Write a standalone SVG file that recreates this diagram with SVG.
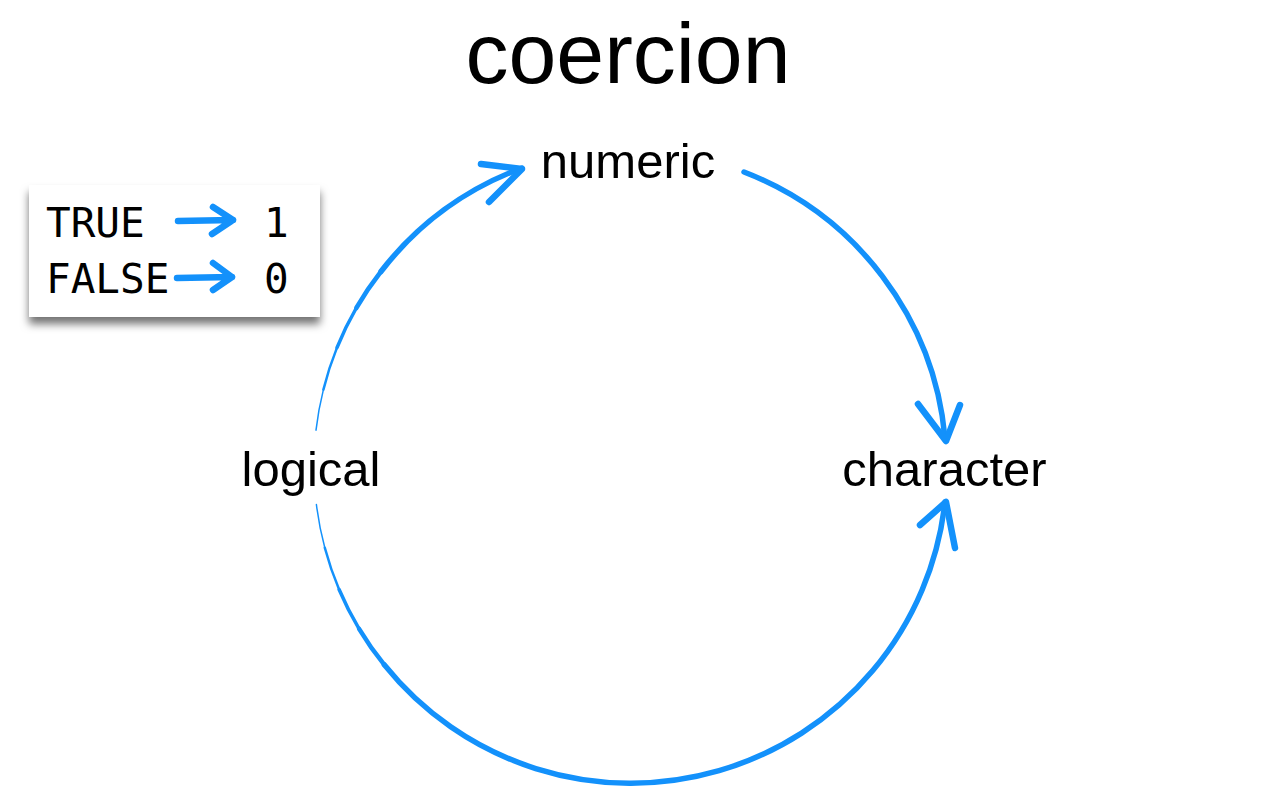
<svg xmlns="http://www.w3.org/2000/svg" width="1263" height="797" viewBox="0 0 1263 797">
<style>
.lbl{font-family:"Liberation Sans",Arial,sans-serif;fill:#000;text-anchor:middle}
.mono{font-family:"DejaVu Sans Mono","Liberation Mono",monospace;font-size:41px;fill:#000}
.arc{fill:none;stroke:#1391fb;stroke-linecap:round;stroke-linejoin:round}
.w{stroke-width:5.5}
.h{stroke-width:6.5}
</style>
<defs>
<filter id="sh" x="-10%" y="-10%" width="120%" height="140%">
<feDropShadow dx="0" dy="7" stdDeviation="4" flood-color="#000" flood-opacity="0.55"/>
</filter>
</defs>
<rect width="1263" height="797" fill="#fff"/>
<text class="lbl" x="628" y="83" font-size="86">coercion</text>
<g id="legend">
<rect x="29" y="185" width="291" height="132" fill="#fff" filter="url(#sh)"/>
<text class="mono" x="46" y="237">TRUE</text>
<text class="mono" x="46" y="293">FALSE</text>
<text class="mono" x="264" y="237">1</text>
<text class="mono" x="264" y="293">0</text>
<g class="arc h">
<path d="M178 221 L233 220 M213 207 L233 220 L212 234"/>
<path d="M177 278 L232 277 M213 263 L232 277 L213 290"/>
</g>
</g>
<g id="numeric"><text class="lbl" x="628" y="178" font-size="49">numeric</text></g>
<g id="logical"><text class="lbl" x="311" y="486" font-size="49">logical</text></g>
<g id="character"><text class="lbl" x="944.5" y="486" font-size="49">character</text></g>
<g id="connectors">
<g id="logical-numeric" class="arc">
<path stroke-width="1.5" d="M316 430.2 A316 316 0 0 1 323.4 389.6"/>
<path stroke-width="2.5" d="M323.4 389.6 A316 316 0 0 1 337 347.6"/>
<path stroke-width="3.5" d="M337 347.6 A316 316 0 0 1 356.3 308"/>
<path stroke-width="4.5" d="M356.3 308 A316 316 0 0 1 381 271.5"/>
<path class="w" d="M381 271.5 A316 316 0 0 1 521.9 168"/>
<path class="h" d="M481 164 L522 169 L489 202"/>
</g>
<g id="numeric-character" class="arc">
<path class="w" d="M744 172 A316 316 0 0 1 945 438"/>
<path class="h" d="M918 404 L946 441 L960 405"/>
</g>
<g id="logical-character" class="arc">
<path stroke-width="1.5" d="M316.4 504.5 A316 316 0 0 0 324.8 547.8"/>
<path stroke-width="2.5" d="M324.8 547.8 A316 316 0 0 0 339.1 589.5"/>
<path stroke-width="3.5" d="M339.1 589.5 A316 316 0 0 0 359.1 628.8"/>
<path stroke-width="4.5" d="M359.1 628.8 A316 316 0 0 0 384.4 664.9"/>
<path class="w" d="M384.4 664.9 A316 316 0 0 0 945 502"/>
<path class="h" d="M920 525 L946 502 L955 548"/>
</g>
</g>
</svg>
